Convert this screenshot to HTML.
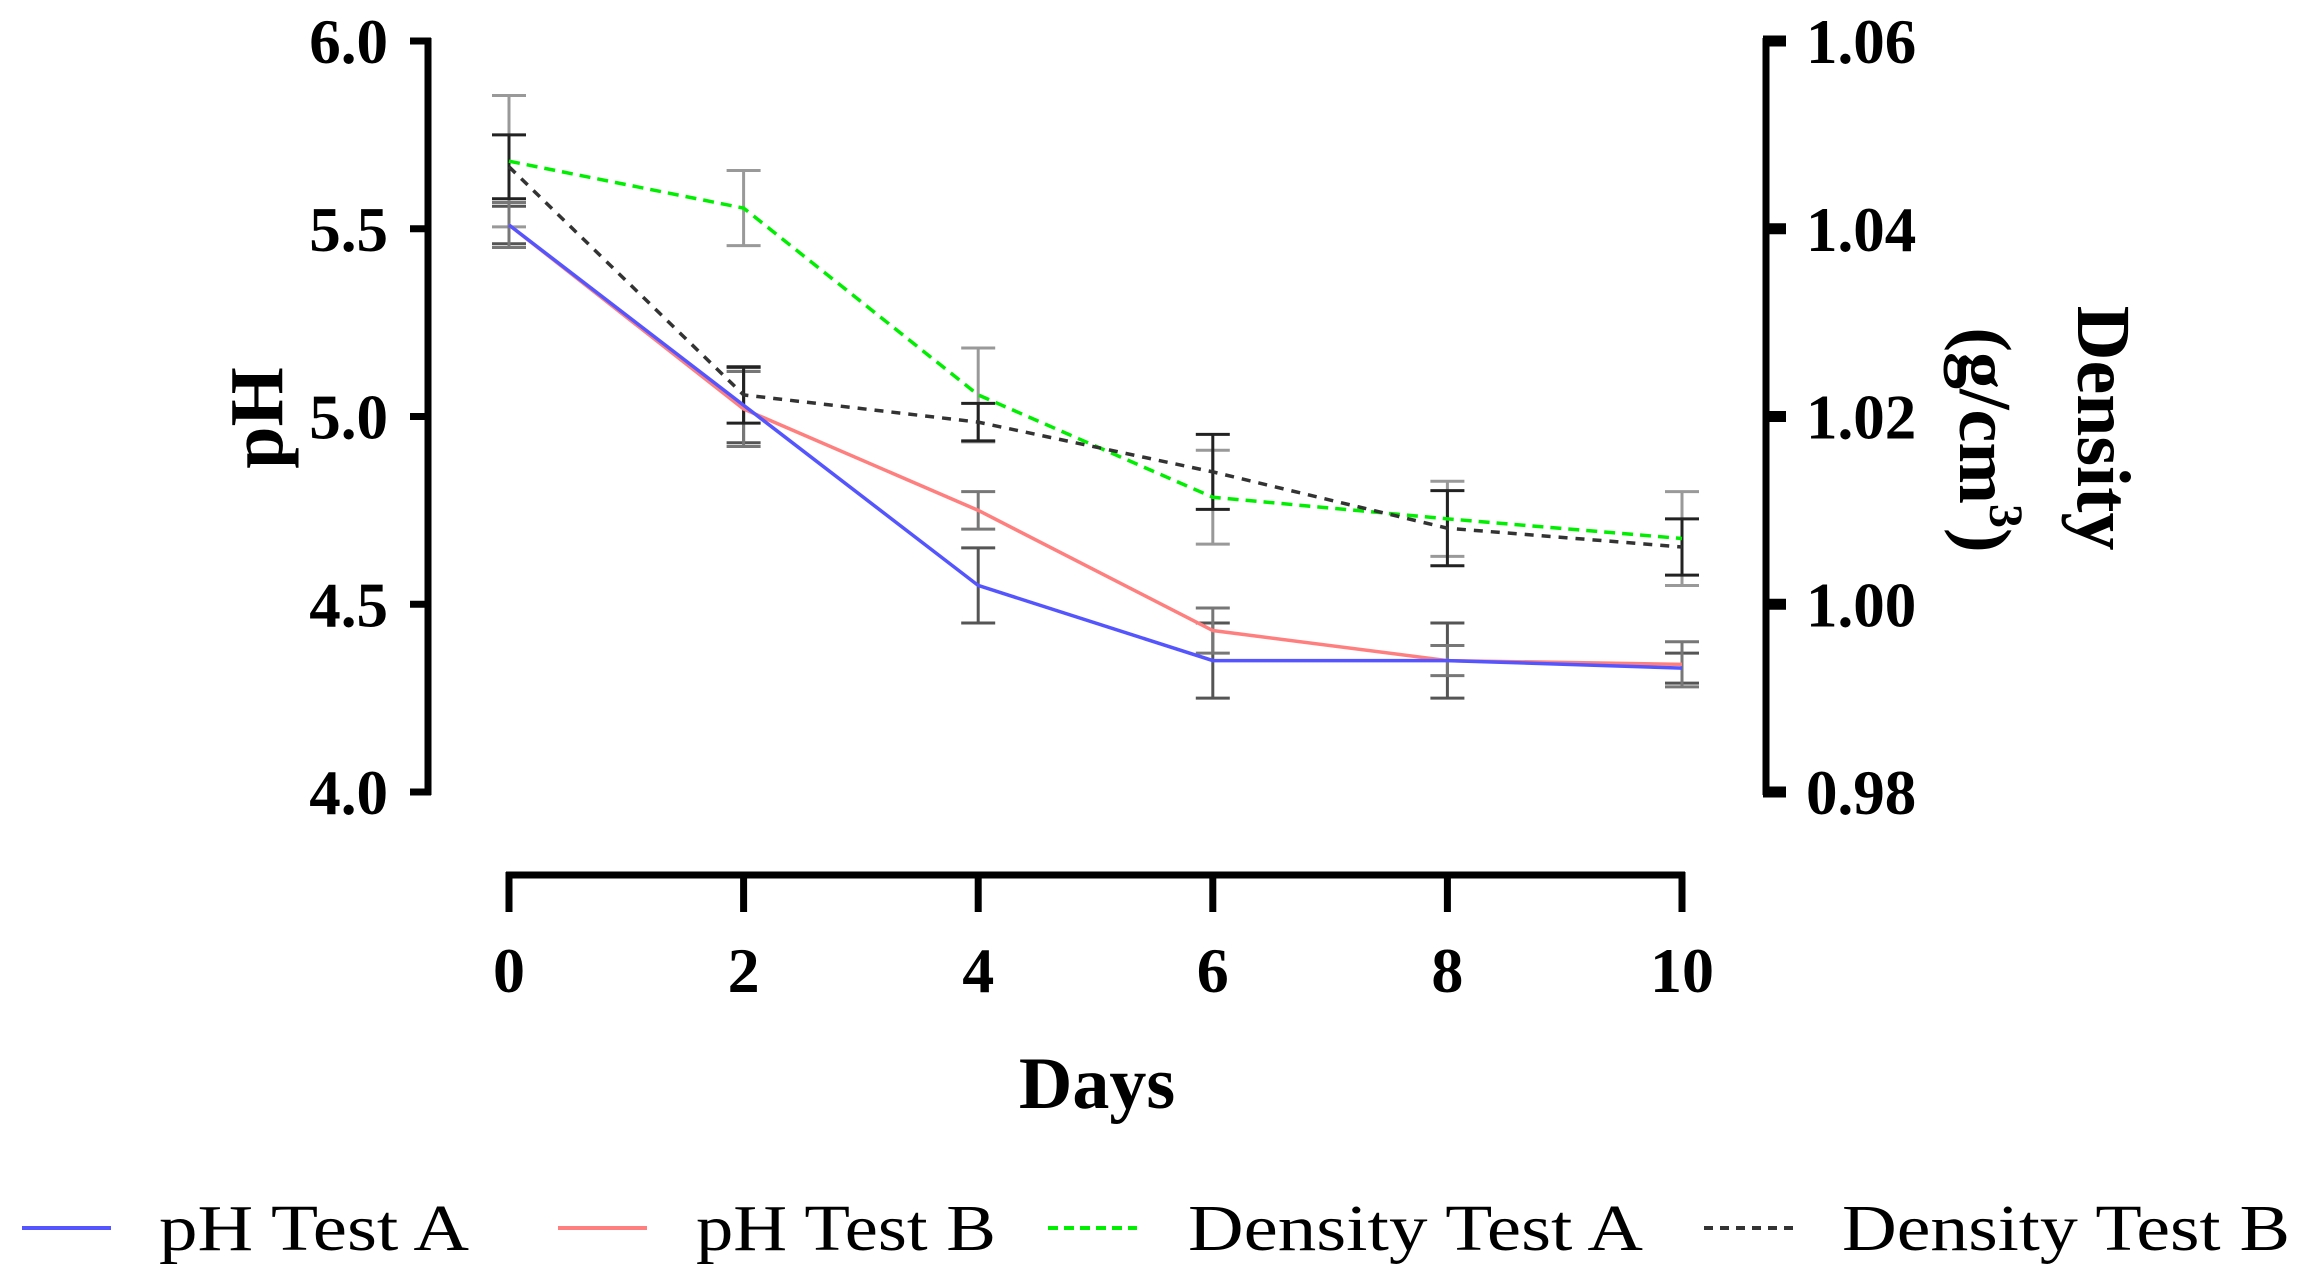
<!DOCTYPE html>
<html><head><meta charset="utf-8"><style>
html,body{margin:0;padding:0;background:#fff;}
svg{display:block;font-family:"Liberation Serif",serif;}
</style></head><body>
<svg id="chart" width="2302" height="1288" viewBox="0 0 2302 1288" xmlns="http://www.w3.org/2000/svg">
<g id="axes"></g>
<g id="bars"></g>
<g id="lines"></g>
<g id="legend"></g>
</svg>
<script>
const days = [0, 2, 4, 6, 8, 10];
const phA = [5.51, 5.03, 4.55, 4.35, 4.35, 4.33];
const phAErr = [0.05, 0.10, 0.10, 0.10, 0.10, 0.04];
const phB = [5.51, 5.02, 4.75, 4.43, 4.35, 4.34];
const phBErr = [0.06, 0.10, 0.05, 0.06, 0.04, 0.06];
const denA = [1.0472, 1.0422, 1.0223, 1.0114, 1.0091, 1.0070];
const denAErr = [0.007, 0.004, 0.005, 0.005, 0.004, 0.005];
const denB = [1.0466, 1.0223, 1.0194, 1.0141, 1.0081, 1.0061];
const denBErr = [0.0034, 0.003, 0.002, 0.004, 0.004, 0.003];
const xTicks = ["0", "2", "4", "6", "8", "10"];
const phTicks = ["4.0", "4.5", "5.0", "5.5", "6.0"];
const denTicks = ["0.98", "1.00", "1.02", "1.04", "1.06"];
const legendLabels = ["pH Test A", "pH Test B", "Density Test A", "Density Test B"];

const NS = "http://www.w3.org/2000/svg";
const X0 = 509, X1 = 1682, YT = 41, YB = 792;
const xS = d => X0 + (d - 0) / 10 * (X1 - X0);
const yPh = v => YB - (v - 4) / 2 * (YB - YT);
const yDen = v => YB - (v - 0.98) / 0.08 * (YB - YT);
function mk(tag, attrs, parent, text) {
  const e = document.createElementNS(NS, tag);
  for (const k in attrs) e.setAttribute(k, attrs[k]);
  if (text !== undefined) e.textContent = text;
  parent.appendChild(e);
  return e;
}
const axes = document.getElementById('axes');
let el = mk('line', {x1:428, y1:YT-3, x2:428, y2:YB+3, stroke:'#000', 'stroke-width':7}, axes);


phTicks.forEach(t => {
  const y = yPh(parseFloat(t));
  let tk = mk('line', {x1:410, y1:y, x2:431, y2:y, stroke:'#000', 'stroke-width':7}, axes);
  
  
  let tl = mk('text', {x:388, y:y+22, 'text-anchor':'end', 'font-size':63, 'font-weight':'bold'}, axes, t);
  
  
});
el = mk('line', {x1:1766, y1:YT-3, x2:1766, y2:YB+3, stroke:'#000', 'stroke-width':7}, axes);


denTicks.forEach(t => {
  const y = yDen(parseFloat(t));
  let tk = mk('line', {x1:1763, y1:y, x2:1786, y2:y, stroke:'#000', 'stroke-width':11}, axes);
  
  
  let tl = mk('text', {x:1806, y:y+22, 'text-anchor':'start', 'font-size':63, 'font-weight':'bold'}, axes, t);
  
  
});
el = mk('line', {x1:X0-3, y1:875, x2:X1+3, y2:875, stroke:'#000', 'stroke-width':7}, axes);


xTicks.forEach((t, i) => {
  const x = xS(days[i]);
  let tk = mk('line', {x1:x, y1:872, x2:x, y2:912, stroke:'#000', 'stroke-width':7}, axes);
  
  
  let tl = mk('text', {x:x, y:992, 'text-anchor':'middle', 'font-size':64, 'font-weight':'bold'}, axes, t);
  
  
});
el = mk('text', {x:1097, y:1108, 'text-anchor':'middle', 'font-size':74, 'font-weight':'bold'}, axes, 'Days');


el = mk('text', {x:0, y:0, 'text-anchor':'middle', 'font-size':76, 'font-weight':'bold', transform:'translate(282,418) rotate(-90)'}, axes, 'pH');


el = mk('text', {x:0, y:0, 'text-anchor':'middle', 'font-size':76, 'font-weight':'bold', transform:'translate(2078,428) rotate(90)'}, axes, 'Density');


el = mk('text', {x:0, y:0, 'text-anchor':'middle', 'font-size':74, 'font-weight':'bold', transform:'translate(1960,440) rotate(90)'}, axes);


mk('tspan', {}, el, '(g/cm');
mk('tspan', {dy:-30, 'font-size':48}, el, '3');
mk('tspan', {dy:30}, el, ')');

const bars = document.getElementById('bars');
function errBars(vals, errs, yf, color, name) {
  vals.forEach((v, i) => {
    const x = xS(days[i]);
    const g = mk('g', {stroke:color, 'stroke-width':3}, bars);
    
    
    const yt = yf(v + errs[i]), yb = yf(v - errs[i]);
    mk('line', {x1:x, y1:yt, x2:x, y2:yb}, g);
    mk('line', {x1:x-17, y1:yt, x2:x+17, y2:yt}, g);
    mk('line', {x1:x-17, y1:yb, x2:x+17, y2:yb}, g);
  });
}
errBars(denA, denAErr, yDen, '#999', 'density-a-error-bar');
errBars(phA, phAErr, yPh, '#555', 'ph-a-error-bar');
errBars(phB, phBErr, yPh, '#777', 'ph-b-error-bar');
errBars(denB, denBErr, yDen, '#222', 'density-b-error-bar');

const lines = document.getElementById('lines');
function series(vals, yf, color, dash, name) {
  const pts = vals.map((v, i) => xS(days[i]) + ',' + yf(v)).join(' ');
  const p = mk('polyline', {points:pts, fill:'none', stroke:color, 'stroke-width':3.5, 'stroke-dasharray':dash}, lines);
  
  
}
series(phB, yPh, '#ff7f7f', 'none', 'ph-test-b-line');
series(phA, yPh, '#5555ff', 'none', 'ph-test-a-line');
series(denA, yDen, '#00ee00', '11,7', 'density-test-a-line');
series(denB, yDen, '#333', '9,8', 'density-test-b-line');

const legend = document.getElementById('legend');
const legColors = ['#5555ff', '#ff7f7f', '#00ee00', '#333'];
const legDash = ['none', 'none', '10,6', '9,7'];
const legLineX = [22, 558, 1048, 1704];
const legTextX = [159, 696, 1188, 1842];
const legTextW = [310, 300, 455, 448];
legendLabels.forEach((lab, i) => {
  const g = mk('g', {}, legend);
  
  
  mk('line', {x1:legLineX[i], y1:1228, x2:legLineX[i]+89, y2:1228, stroke:legColors[i], 'stroke-width':4, 'stroke-dasharray':legDash[i]}, g);
  mk('text', {x:legTextX[i], y:1250, 'font-size':66, textLength:legTextW[i], lengthAdjust:'spacingAndGlyphs'}, g, lab);
});
</script>
</body></html>
